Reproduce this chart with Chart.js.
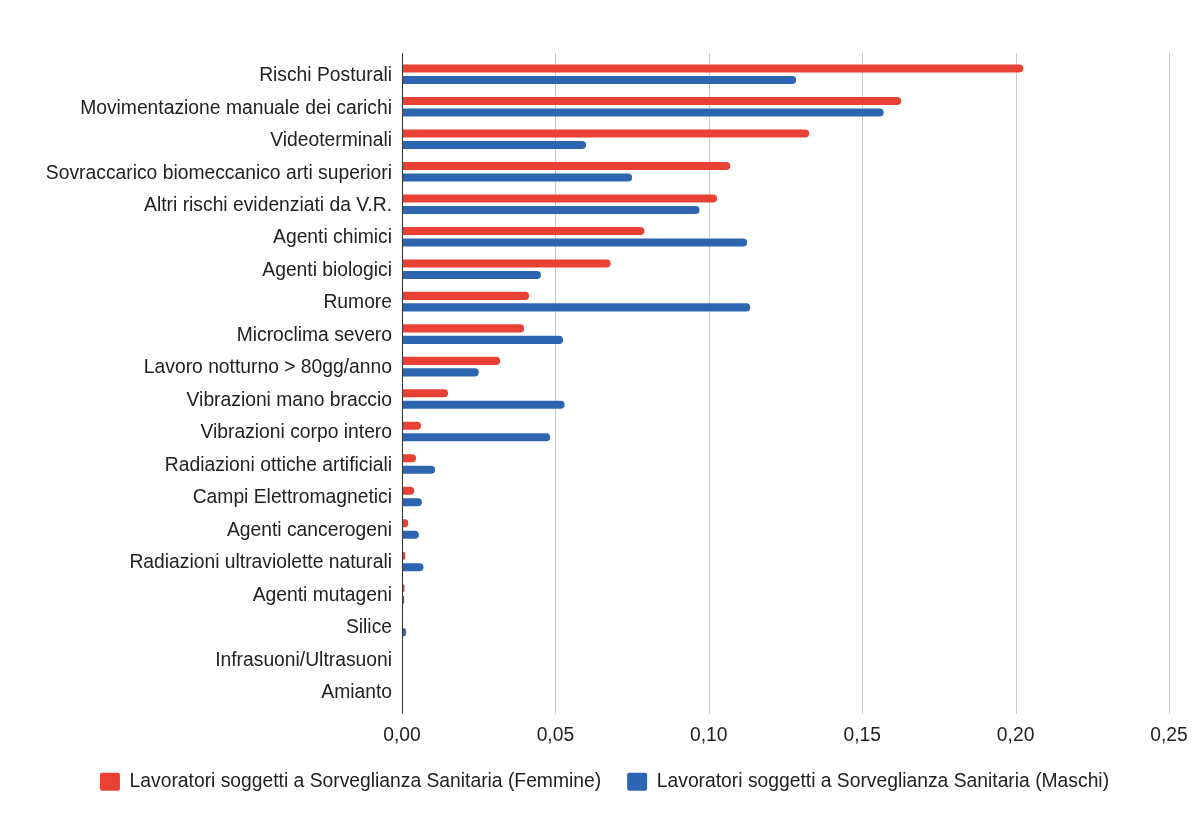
<!DOCTYPE html>
<html><head><meta charset="utf-8">
<script src="https://cdn.jsdelivr.net/npm/chart.js@4"></script>
<style>html,body{margin:0;padding:0;background:#fff;}#wrap{width:1199px;height:835px;}</style>
</head><body><div id="wrap"><canvas id="c"></canvas></div>
<script>
const categories = ["Rischi Posturali","Movimentazione manuale dei carichi","Videoterminali","Sovraccarico biomeccanico arti superiori","Altri rischi evidenziati da V.R.","Agenti chimici","Agenti biologici","Rumore","Microclima severo","Lavoro notturno > 80gg/anno","Vibrazioni mano braccio","Vibrazioni corpo intero","Radiazioni ottiche artificiali","Campi Elettromagnetici","Agenti cancerogeni","Radiazioni ultraviolette naturali","Agenti mutageni","Silice","Infrasuoni/Ultrasuoni","Amianto"];
const femmine = [0.2025,0.1627,0.1327,0.107,0.1027,0.079,0.068,0.0414,0.0398,0.032,0.015,0.0062,0.0046,0.004,0.002,0.001,0.0008,0.0003,0.0002,0];
const maschi  = [0.1285,0.157,0.060,0.075,0.097,0.1125,0.0453,0.1135,0.0525,0.025,0.053,0.0483,0.0108,0.0065,0.0055,0.007,0.0007,0.0013,0.0002,0];
const tickValues = [0,0.05,0.10,0.15,0.20,0.25];
const seriesNames = ["Lavoratori soggetti a Sorveglianza Sanitaria (Femmine)","Lavoratori soggetti a Sorveglianza Sanitaria (Maschi)"];

const FONT = "'Liberation Sans', Arial, sans-serif";
const FS = 19.3;
const TEXT = '#222';

const gridPlugin = {
  id: 'extGrid',
  beforeDatasetsDraw(chart) {
    const {ctx, chartArea, scales} = chart;
    ctx.save();
    ctx.strokeStyle = '#cccccc'; ctx.lineWidth = 1;
    tickValues.forEach(v => {
      if (v === 0) return;
      const x = Math.round(scales.x.getPixelForValue(v)) + 0.5;
      ctx.beginPath(); ctx.moveTo(x, chartArea.top - 5); ctx.lineTo(x, chartArea.bottom + 6); ctx.stroke();
    });
    ctx.restore();
  },
  afterDatasetsDraw(chart) {
    const {ctx, chartArea, scales} = chart;
    ctx.save();
    ctx.strokeStyle = '#333333'; ctx.lineWidth = 1;
    const x = Math.round(scales.x.getPixelForValue(0)) + 0.5;
    ctx.beginPath(); ctx.moveTo(x, chartArea.top - 5); ctx.lineTo(x, chartArea.bottom + 6); ctx.stroke();
    ctx.restore();
  }
};

new Chart(document.getElementById('c'), {
  type: 'bar',
  data: {
    labels: categories,
    datasets: [
      {label: seriesNames[0], data: femmine, backgroundColor: '#e94235', categoryPercentage: 0.708, barPercentage: 0.7, borderRadius: 4, borderSkipped: 'start'},
      {label: seriesNames[1], data: maschi, backgroundColor: '#2e65b1', categoryPercentage: 0.708, barPercentage: 0.7, borderRadius: 4, borderSkipped: 'start'}
    ]
  },
  options: {
    indexAxis: 'y',
    responsive: true,
    maintainAspectRatio: false,
    animation: false,
    layout: {padding: {top: 58, right: 30, left: 40, bottom: 33.5}},
    plugins: {
      tooltip: {enabled: false},
      legend: {
        position: 'bottom',
        labels: {
          font: {family: FONT, size: FS},
          color: TEXT,
          boxWidth: 20, boxHeight: 18,
          useBorderRadius: true, borderRadius: 2,
          padding: 26
        }
      }
    },
    scales: {
      x: {
        min: 0, max: 0.25,
        afterBuildTicks: (s) => { s.ticks = tickValues.map(v => ({value: v})); },
        afterFit: (s) => { s.height = 38.5; s.paddingRight = 0; s.paddingLeft = 0; },
        ticks: {
          font: {family: FONT, size: FS}, color: TEXT, padding: 16,
          callback: (v) => Number(v).toFixed(2).replace('.', ',')
        },
        grid: {display: false, drawTicks: false},
        border: {display: false}
      },
      y: {
        afterFit: (s) => { s.width = 362; },
        ticks: {font: {family: FONT, size: FS}, color: TEXT, padding: 10, autoSkip: false, labelOffset: 1.5},
        grid: {display: false, drawTicks: false},
        border: {display: false}
      }
    }
  },
  plugins: [gridPlugin]
});
</script></body></html>
